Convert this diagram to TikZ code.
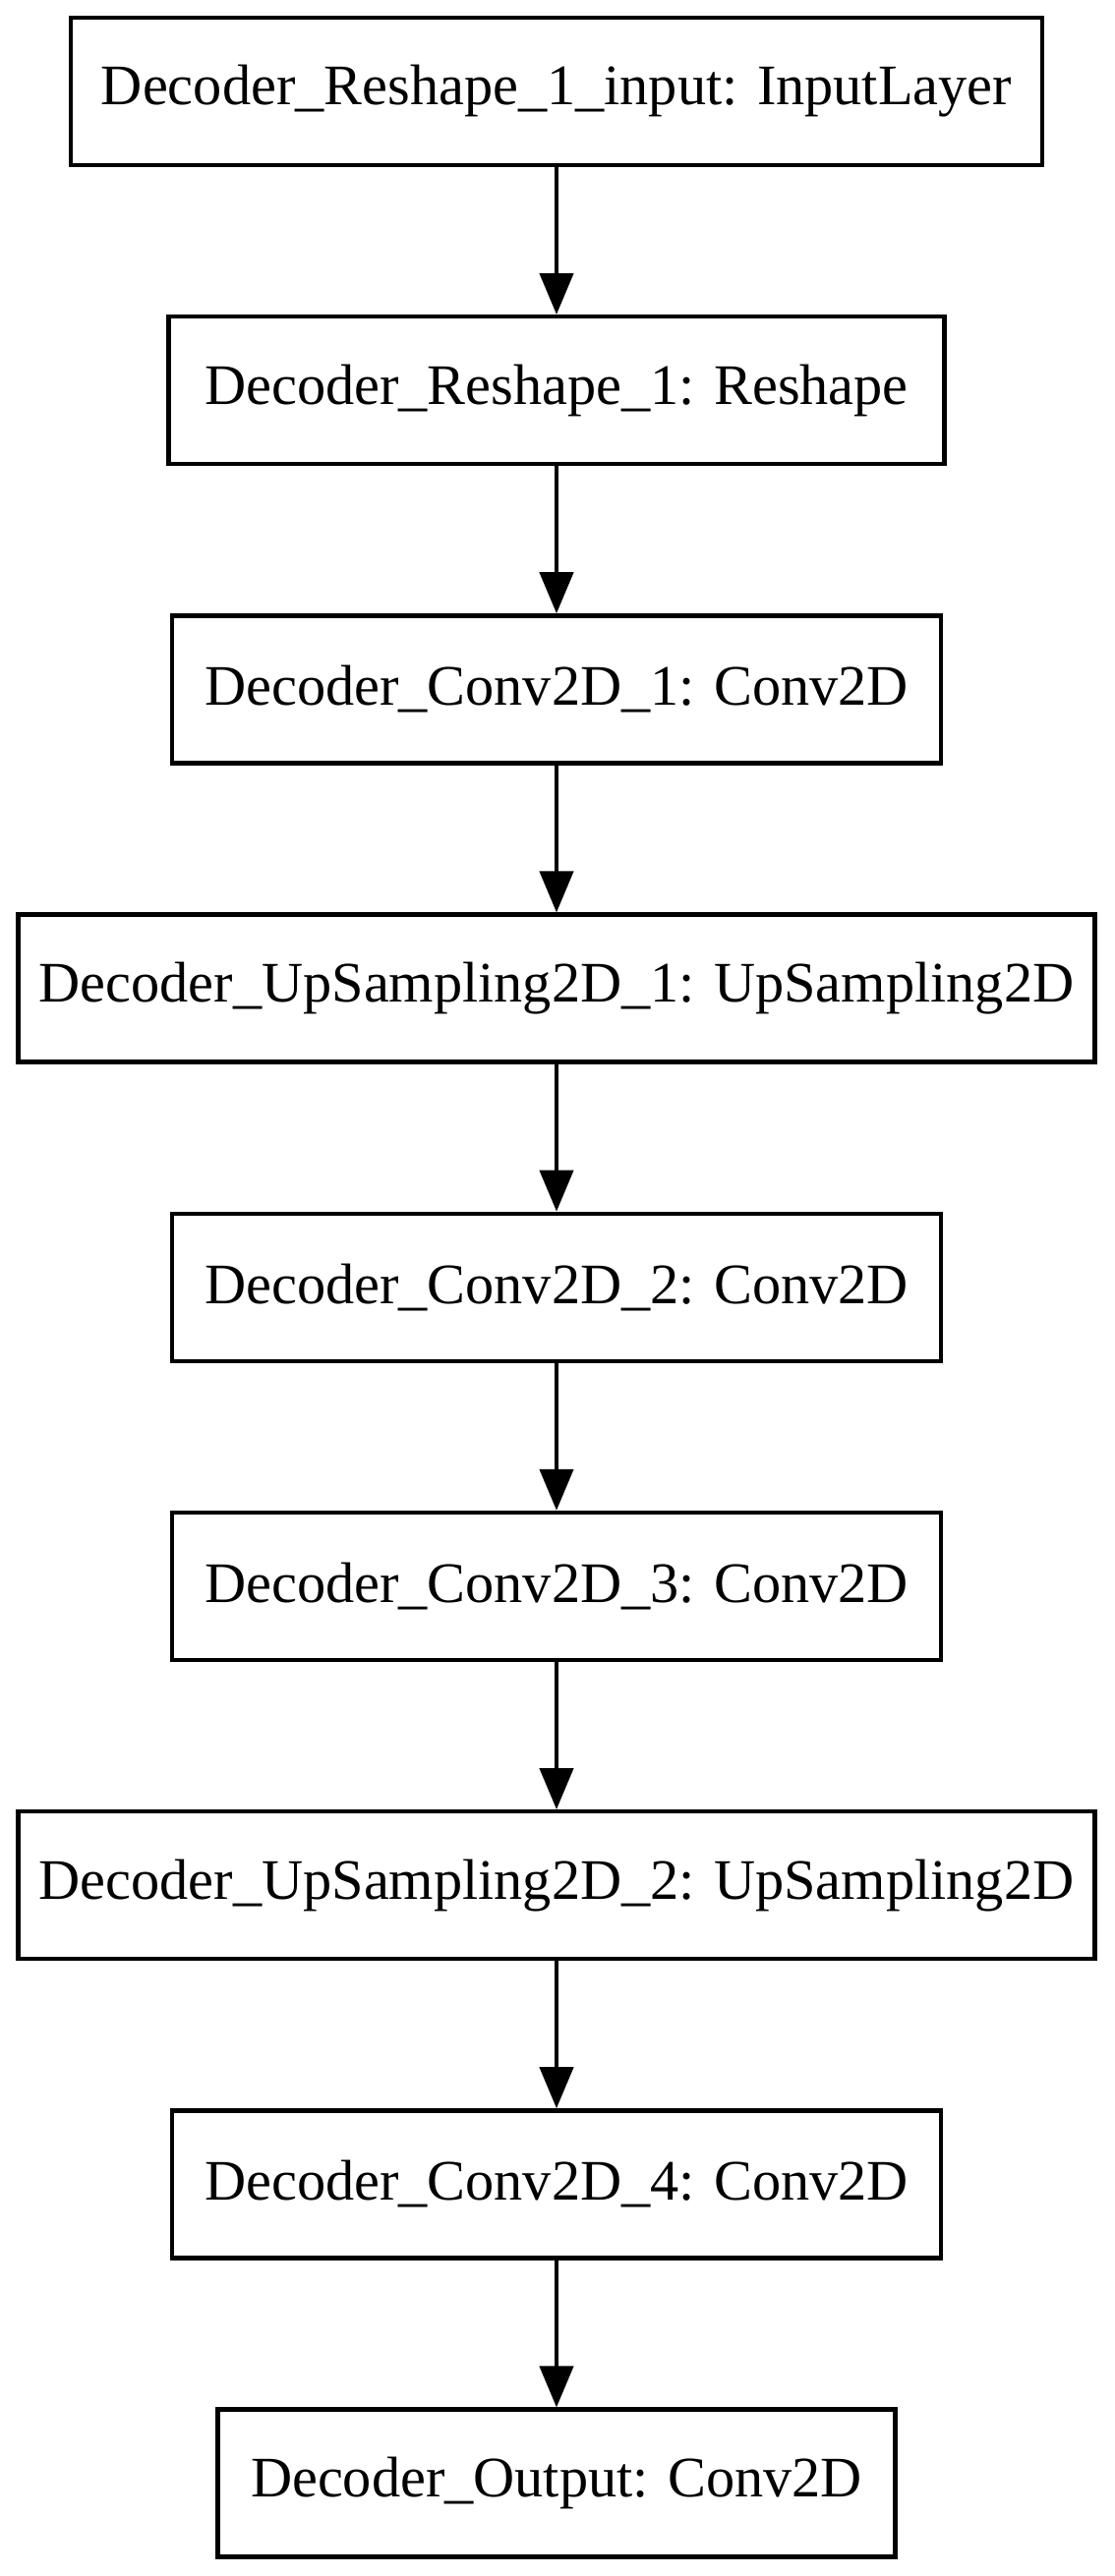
\documentclass[tikz,border=0pt]{standalone}
\usepackage{fontspec}
\setmainfont{Liberation Serif}
\usetikzlibrary{arrows.meta}
\begin{document}
\begin{tikzpicture}[x=1pt,y=-1pt,
  layer/.style={draw=black, line width=4.4pt, rectangle, minimum height=150pt,
    inner sep=0pt, font=\fontsize{58.3}{70}\selectfont, text=black},
  flow/.style={line width=4.4pt, -{Triangle[length=42pt,width=34pt]}}]
  \useasboundingbox (0,0) rectangle (1133,2621);
  \node[layer, minimum width=988pt]  (n1) at (566,  93.0) {Decoder\_Reshape\_1\_input: InputLayer};
  \node[layer, minimum width=789pt]  (n2) at (566, 397.2) {Decoder\_Reshape\_1: Reshape};
  \node[layer, minimum width=782pt]  (n3) at (566, 701.4) {Decoder\_Conv2D\_1: Conv2D};
  \node[layer, minimum width=1095pt] (n4) at (566,1005.6) {Decoder\_UpSampling2D\_1: UpSampling2D};
  \node[layer, minimum width=782pt]  (n5) at (566,1309.8) {Decoder\_Conv2D\_2: Conv2D};
  \node[layer, minimum width=782pt]  (n6) at (566,1614.0) {Decoder\_Conv2D\_3: Conv2D};
  \node[layer, minimum width=1095pt] (n7) at (566,1918.2) {Decoder\_UpSampling2D\_2: UpSampling2D};
  \node[layer, minimum width=782pt]  (n8) at (566,2222.4) {Decoder\_Conv2D\_4: Conv2D};
  \node[layer, minimum width=689pt]  (n9) at (566,2526.6) {Decoder\_Output: Conv2D};
  \foreach \a/\b in {n1/n2,n2/n3,n3/n4,n4/n5,n5/n6,n6/n7,n7/n8,n8/n9}
    \draw[flow] (\a.south) -- (\b.north);
\end{tikzpicture}
\end{document}
